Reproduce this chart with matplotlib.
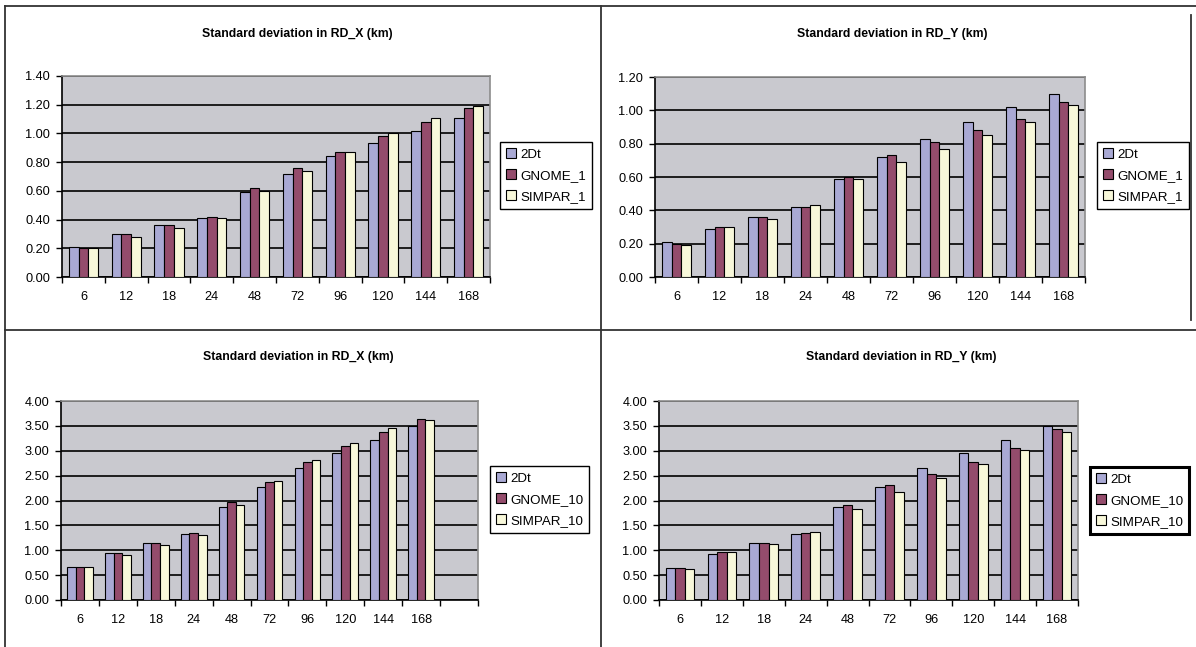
import numpy as np
import matplotlib
matplotlib.use('Agg')
import matplotlib.pyplot as plt
from matplotlib.lines import Line2D

plt.rcParams['font.family'] = ['Liberation Sans', 'DejaVu Sans']

hours = ['6', '12', '18', '24', '48', '72', '96', '120', '144', '168']

# top left: RD_X, 1 run
x1_2dt = [0.21, 0.30, 0.36, 0.41, 0.59, 0.72, 0.84, 0.93, 1.02, 1.11]
x1_gnome = [0.20, 0.30, 0.36, 0.42, 0.62, 0.76, 0.87, 0.98, 1.08, 1.18]
x1_simpar = [0.20, 0.28, 0.34, 0.41, 0.60, 0.74, 0.87, 1.00, 1.11, 1.19]

# top right: RD_Y, 1 run
y1_2dt = [0.21, 0.29, 0.36, 0.42, 0.59, 0.72, 0.83, 0.93, 1.02, 1.10]
y1_gnome = [0.20, 0.30, 0.36, 0.42, 0.60, 0.73, 0.81, 0.88, 0.95, 1.05]
y1_simpar = [0.19, 0.30, 0.35, 0.43, 0.59, 0.69, 0.77, 0.85, 0.93, 1.03]

# bottom left: RD_X, 10 runs
x10_2dt = [0.67, 0.94, 1.14, 1.32, 1.86, 2.27, 2.66, 2.96, 3.22, 3.49]
x10_gnome = [0.67, 0.94, 1.14, 1.34, 1.97, 2.37, 2.77, 3.10, 3.37, 3.63]
x10_simpar = [0.67, 0.91, 1.10, 1.30, 1.91, 2.39, 2.82, 3.16, 3.45, 3.62]

# bottom right: RD_Y, 10 runs
y10_2dt = [0.65, 0.93, 1.15, 1.32, 1.86, 2.27, 2.65, 2.96, 3.22, 3.49]
y10_gnome = [0.64, 0.96, 1.15, 1.35, 1.90, 2.31, 2.54, 2.78, 3.05, 3.43]
y10_simpar = [0.62, 0.96, 1.12, 1.36, 1.83, 2.17, 2.46, 2.73, 3.01, 3.37]

colors = ['#A9A9D4', '#944C6C', '#F8F8DA']
W, H = 1196, 647


def px_rect(left, top, right, bottom):
    return [left / W, 1 - bottom / H, (right - left) / W, (bottom - top) / H]


def draw_panel(fig, rect, series, labels, ymax, ystep, nslots, title, title_xy, leg_xy, leg_lw):
    ax = fig.add_axes(px_rect(*rect))
    ax.set_facecolor('#C9C9CF')
    x = np.arange(len(hours))
    w = 0.227
    for i, vals in enumerate(series):
        ax.bar(x + (i - 1) * w, vals, w, color=colors[i], edgecolor='black',
               linewidth=0.8, label=labels[i], zorder=3)
    ax.set_xlim(-0.5, nslots - 0.5)
    ax.set_ylim(0, ymax)
    yt = np.arange(0, ymax + ystep / 2, ystep)
    ax.set_yticks(yt)
    ax.set_yticklabels(['%.2f' % v for v in yt])
    ax.yaxis.grid(True, color='black', linewidth=1.2, zorder=1)
    ax.set_axisbelow(True)
    ax.set_xticks(x)
    ax.set_xticklabels(hours)
    ax.set_xticks(np.arange(nslots + 1) - 0.5, minor=True)
    ax.tick_params(axis='x', which='major', length=0, pad=10, labelsize=9.2)
    ax.tick_params(axis='x', which='minor', length=4, width=1, direction='out')
    ax.tick_params(axis='y', length=4, width=1, direction='out', pad=4.5, labelsize=9.2)
    for s in ['left', 'bottom']:
        ax.spines[s].set_color('black')
        ax.spines[s].set_linewidth(1.2)
    for s in ['top', 'right']:
        ax.spines[s].set_color('#8C8C8C')
        ax.spines[s].set_linewidth(1.2)
    fig.text(title_xy[0] / W, 1 - title_xy[1] / H, title, ha='center', va='center',
             fontsize=8.8, fontweight='bold')
    leg = ax.legend(loc='upper left', bbox_to_anchor=(leg_xy[0] / W, 1 - leg_xy[1] / H),
                    bbox_transform=fig.transFigure, fontsize=9.6, frameon=True, fancybox=False,
                    framealpha=1, edgecolor='black', handlelength=0.75, handleheight=0.75,
                    handletextpad=0.3, labelspacing=0.65, borderpad=0.45, borderaxespad=0)
    leg.get_frame().set_linewidth(leg_lw)
    for h in leg.legend_handles:
        h.set_linewidth(0.8)
    return ax


fig = plt.figure(figsize=(W / 100, H / 100), dpi=100)

draw_panel(fig, (62, 76, 490, 277), [x1_2dt, x1_gnome, x1_simpar],
           ['2Dt', 'GNOME_1', 'SIMPAR_1'], 1.4, 0.2, 10,
           'Standard deviation in RD_X (km)', (297, 34), (500, 142), 1.0)
draw_panel(fig, (655, 77, 1085, 277), [y1_2dt, y1_gnome, y1_simpar],
           ['2Dt', 'GNOME_1', 'SIMPAR_1'], 1.2, 0.2, 10,
           'Standard deviation in RD_Y (km)', (892, 34), (1097, 142), 1.0)
draw_panel(fig, (61, 401, 478, 600), [x10_2dt, x10_gnome, x10_simpar],
           ['2Dt', 'GNOME_10', 'SIMPAR_10'], 4.0, 0.5, 11,
           'Standard deviation in RD_X (km)', (298, 357), (490, 466), 1.0)
draw_panel(fig, (659, 401, 1078, 600), [y10_2dt, y10_gnome, y10_simpar],
           ['2Dt', 'GNOME_10', 'SIMPAR_10'], 4.0, 0.5, 10,
           'Standard deviation in RD_Y (km)', (901, 357), (1090, 467), 2.2)

# frame lines between the four charts
frame = [((5, 6), (1196, 6)), ((5, 6), (5, 647)), ((601, 6), (601, 647)),
         ((5, 330), (1196, 330)), ((1191, 15), (1191, 320))]
for (xa, ya), (xb, yb) in frame:
    fig.add_artist(Line2D([xa / W, xb / W], [1 - ya / H, 1 - yb / H],
                          color='#333333', linewidth=1.3))

fig.savefig('out.png', dpi=100)
